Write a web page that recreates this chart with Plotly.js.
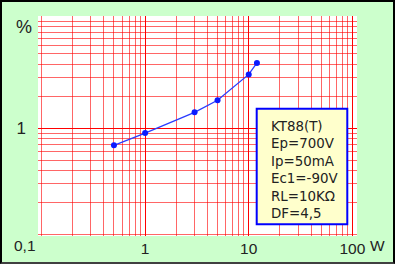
<!DOCTYPE html>
<html><head><meta charset="utf-8">
<script src="https://cdn.plot.ly/plotly-3.0.1.min.js"></script>
<style>
html,body{margin:0;padding:0;background:#ccffcc;}
#wrap{position:relative;width:395px;height:264px;}
#chart{position:absolute;left:0;top:0;width:395px;height:264px;}
#frame{position:absolute;left:0;top:0;width:395px;height:264px;box-sizing:border-box;border-left:2px solid #000;border-top:2px solid #000;border-right:2px solid #000;border-bottom:2px solid #404040;pointer-events:none;}
</style></head>
<body><div id="wrap"><div id="chart"></div><div id="frame"></div></div>
<script>
// Data
const powerW = [0.5, 1, 3, 5, 10, 12];
const distortionPct = [0.69, 0.90, 1.41, 1.83, 3.2, 4.1];
const xTickVals = [1, 10, 100];
const xTickText = ['1', '10', '100'];
const yTickVals = [1];
const yTickText = ['1'];
const infoLines = ['KT88(T)', 'Ep=700V', 'Ip=50mA', 'Ec1=-90V', 'RL=10K\u03A9', 'DF=4,5'];

const W = 395, H = 264;
const mL = 38, mR = 38.3, mT = 16, mB = 28.3;
const pw = W - mL - mR, ph = H - mT - mB;
const px = X => (X - mL) / pw;
const py = Y => (H - mB - Y) / ph;
const FONT = 'Liberation Sans, Arial, sans-serif';

const annotations = [
  {text: '%', x: px(23.7), y: py(27), xref: 'paper', yref: 'paper', showarrow: false, xanchor: 'center', yanchor: 'middle', font: {family: FONT, size: 18, color: '#222'}},
  {text: '0,1', x: px(25), y: py(245.5), xref: 'paper', yref: 'paper', showarrow: false, xanchor: 'center', yanchor: 'middle', font: {family: FONT, size: 15.5, color: '#222'}},
  {text: 'W', x: px(376.7), y: py(245.5), xref: 'paper', yref: 'paper', showarrow: false, xanchor: 'center', yanchor: 'middle', font: {family: FONT, size: 15.5, color: '#222'}},
  {text: infoLines.join('<br>'), x: px(268.5), y: py(169.5), xref: 'paper', yref: 'paper', showarrow: false,
   xanchor: 'left', yanchor: 'middle', align: 'left', font: {family: 'DejaVu Sans', size: 13.4, color: '#222'}}
];

const layout = {
  width: W, height: H,
  margin: {l: mL, r: mR, t: mT, b: mB, pad: 0},
  paper_bgcolor: '#ccffcc',
  plot_bgcolor: '#ffffff',
  showlegend: false,
  xaxis: {
    type: 'log', range: [-1.034, 2.045], fixedrange: true,
    tickvals: xTickVals, ticktext: xTickText,
    showgrid: true, gridcolor: '#ff0000', gridwidth: 1,
    minor: {dtick: 'D1', showgrid: true, gridcolor: 'rgba(255,0,0,0.6)', gridwidth: 1},
    zeroline: false, showline: false, ticks: '',
    tickfont: {family: FONT, size: 15.5, color: '#222'},
    ticklabelstandoff: 1
  },
  yaxis: {
    type: 'log', range: [-1.013, 1.054], fixedrange: true,
    tickvals: yTickVals, ticktext: yTickText,
    showgrid: true, gridcolor: '#ff0000', gridwidth: 1,
    minor: {dtick: 'D1', showgrid: true, gridcolor: 'rgba(255,0,0,0.6)', gridwidth: 1},
    zeroline: false, showline: false, ticks: '',
    tickfont: {family: FONT, size: 17, color: '#222'},
    ticklabelstandoff: 11
  },
  shapes: [{
    type: 'rect', xref: 'paper', yref: 'paper',
    x0: px(256.5), x1: px(347), y0: py(224), y1: py(108.5),
    fillcolor: '#ffffcc', line: {color: '#0000ff', width: 2}, layer: 'above'
  }],
  annotations: annotations
};

const trace = {
  x: powerW, y: distortionPct, type: 'scatter', mode: 'lines+markers',
  line: {color: '#2a3cff', width: 1.3},
  marker: {color: '#0a1aff', size: 6}
};

Plotly.newPlot('chart', [trace], layout, {staticPlot: true, displayModeBar: false});
</script></body></html>
